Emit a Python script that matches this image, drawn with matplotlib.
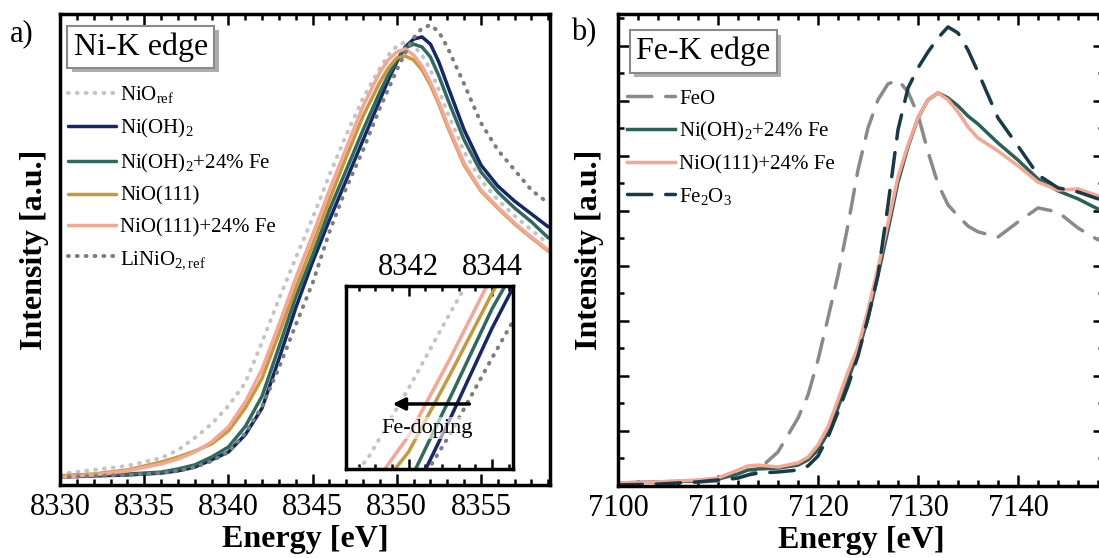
import matplotlib
matplotlib.use('Agg')
import matplotlib.pyplot as plt
from matplotlib.ticker import MultipleLocator
import matplotlib.patheffects as pe

plt.rcParams['font.family'] = 'Liberation Serif'
plt.rcParams['mathtext.fontset'] = 'custom'
plt.rcParams['mathtext.rm'] = 'Liberation Serif'
plt.rcParams['mathtext.it'] = 'Liberation Serif:italic'
plt.rcParams['mathtext.bf'] = 'Liberation Serif:bold'

# ---- Ni K-edge data (normalised intensity)
E_ni = [8330, 8332, 8334, 8336, 8337, 8338, 8339, 8340, 8341, 8342, 8343, 8344, 8345, 8346,
        8347, 8348, 8349, 8349.5, 8350, 8350.5, 8351, 8351.5, 8352, 8352.5, 8353, 8354,
        8355, 8356, 8357, 8358, 8359]
nio_ref = [0.035, 0.048, 0.061, 0.086, 0.111, 0.150, 0.194, 0.252, 0.325, 0.455, 0.592, 0.723,
           0.850, 0.987, 1.115, 1.232, 1.328, 1.369, 1.398, 1.411, 1.398, 1.369, 1.322, 1.258,
           1.188, 1.061, 0.971, 0.908, 0.857, 0.812, 0.768]
ni_oh2 = [0.025, 0.029, 0.032, 0.038, 0.045, 0.057, 0.080, 0.105, 0.160, 0.245, 0.401, 0.564,
          0.710, 0.844, 0.971, 1.099, 1.226, 1.290, 1.347, 1.395, 1.420, 1.427, 1.404, 1.347,
          1.274, 1.131, 1.019, 0.952, 0.904, 0.863, 0.822]
ni_oh2_fe = [0.029, 0.032, 0.035, 0.041, 0.051, 0.064, 0.089, 0.121, 0.186, 0.283, 0.439, 0.599,
             0.732, 0.876, 1.003, 1.131, 1.252, 1.306, 1.354, 1.392, 1.404, 1.395, 1.363, 1.303,
             1.232, 1.099, 0.997, 0.933, 0.882, 0.838, 0.787]
nio111 = [0.029, 0.035, 0.048, 0.073, 0.089, 0.108, 0.131, 0.172, 0.245, 0.340, 0.481, 0.627,
          0.764, 0.908, 1.045, 1.175, 1.283, 1.328, 1.360, 1.366, 1.354, 1.322, 1.274, 1.213,
          1.143, 1.019, 0.936, 0.882, 0.831, 0.787, 0.745]
nio111_fe = [0.025, 0.032, 0.045, 0.067, 0.083, 0.105, 0.137, 0.185, 0.264, 0.369, 0.510, 0.659,
             0.796, 0.939, 1.073, 1.207, 1.315, 1.354, 1.379, 1.389, 1.369, 1.334, 1.283, 1.220,
             1.150, 1.025, 0.939, 0.885, 0.834, 0.790, 0.748]
linio2_ref = [0.025, 0.029, 0.032, 0.038, 0.045, 0.057, 0.076, 0.105, 0.165, 0.250, 0.373, 0.510,
              0.643, 0.806, 0.946, 1.067, 1.201, 1.261, 1.322, 1.376, 1.424, 1.455, 1.465, 1.443,
              1.395, 1.277, 1.153, 1.067, 1.003, 0.939, 0.898]

# ---- Fe K-edge data
E_fe = [7100, 7104, 7108, 7110, 7112, 7113, 7114, 7116, 7118, 7119, 7120, 7121, 7122, 7123,
        7124, 7125, 7126, 7127, 7128, 7129, 7130, 7131, 7132, 7133, 7134, 7135, 7136, 7138,
        7140, 7142, 7144, 7146, 7148]
feo = [0.007, 0.011, 0.015, 0.018, 0.029, 0.040, 0.058, 0.124, 0.247, 0.331, 0.458, 0.611, 0.767,
       0.949, 1.149, 1.302, 1.404, 1.462, 1.476, 1.433, 1.349, 1.215, 1.098, 1.022, 0.982, 0.945,
       0.924, 0.905, 0.960, 1.011, 0.996, 0.938, 0.895]
ni_oh2_fe_b = [0.011, 0.015, 0.018, 0.025, 0.044, 0.058, 0.062, 0.065, 0.076, 0.095, 0.131, 0.193,
               0.284, 0.385, 0.487, 0.611, 0.767, 0.931, 1.105, 1.233, 1.338, 1.404, 1.429, 1.411,
               1.382, 1.345, 1.316, 1.247, 1.185, 1.116, 1.073, 1.044, 1.007]
nio111_fe_b = [0.011, 0.015, 0.022, 0.029, 0.058, 0.073, 0.076, 0.069, 0.084, 0.105, 0.149, 0.215,
               0.313, 0.415, 0.505, 0.640, 0.793, 0.956, 1.124, 1.240, 1.338, 1.404, 1.429, 1.404,
               1.360, 1.305, 1.265, 1.218, 1.164, 1.105, 1.076, 1.080, 1.055]
fe2o3 = [0.004, 0.007, 0.015, 0.022, 0.029, 0.040, 0.047, 0.051, 0.058, 0.073, 0.109, 0.178, 0.269,
         0.364, 0.473, 0.611, 0.767, 1.022, 1.295, 1.447, 1.520, 1.578, 1.629, 1.669, 1.647, 1.585,
         1.505, 1.338, 1.236, 1.131, 1.084, 1.069, 1.044]

ni_labels = ['NiO$_{\\mathrm{ref}}$', 'Ni(OH)$_2$', 'Ni(OH)$_2$+24% Fe', 'NiO(111)',
             'NiO(111)+24% Fe', 'LiNiO$_{\\mathrm{2,ref}}$']
fe_labels = ['FeO', 'Ni(OH)$_2$+24% Fe', 'NiO(111)+24% Fe', 'Fe$_2$O$_3$']

DOT = (0, (0.2, 2.0))
DASH = (0, (7, 4))
ni_series = [(nio_ref, '#c4c4c4', DOT), (ni_oh2, '#15266b', '-'), (ni_oh2_fe, '#2e6b5e', '-'),
             (nio111, '#c69a3a', '-'), (nio111_fe, '#f6a693', '-'), (linio2_ref, '#7d7d7d', DOT)]
fe_series = [(feo, '#8a8a8a', DASH), (ni_oh2_fe_b, '#2a6157', '-'),
             (nio111_fe_b, '#f6a693', '-'), (fe2o3, '#163a48', DASH)]

W, H = 1099, 558
fig = plt.figure(figsize=(W / 100, H / 100), dpi=100)


def box(l, t, r, b):
    return [l / W, 1 - b / H, (r - l) / W, (b - t) / H]


axa = fig.add_axes(box(60, 14, 550, 485))
axb = fig.add_axes(box(618, 14, 1104, 486))
axi = fig.add_axes(box(346, 286, 513, 469))

for y, c, ls in ni_series:
    lw = 2.9 if ls == DOT else 2.5
    for ax in (axa, axi):
        ax.plot(E_ni, y, color=c, ls=ls, lw=lw, dash_capstyle='round', solid_capstyle='round')
for y, c, ls in fe_series:
    axb.plot(E_fe, y, color=c, ls=ls, lw=2.5, dash_capstyle='round')

for ax in (axa, axb, axi):
    for s in ax.spines.values():
        s.set_linewidth(2.5)

# panel a
axa.set_xlim(8330, 8359.1)
axa.set_ylim(0, 1.5)
axa.set_yticks([])
axa.xaxis.set_major_locator(MultipleLocator(5))
axa.xaxis.set_minor_locator(MultipleLocator(1))
axa.tick_params(axis='x', which='both', direction='in', top=True, width=1.8, labelsize=22, pad=6)
axa.tick_params(axis='x', which='major', length=8)
axa.tick_params(axis='x', which='minor', length=4)
axa.set_xlabel('Energy [eV]', fontsize=23, fontweight='bold', labelpad=2)
axa.set_ylabel('Intensity [a.u.]', fontsize=23, fontweight='bold', labelpad=8)
axa.legend(axa.lines, ni_labels, loc='upper left', bbox_to_anchor=(0.016, 0.851),
           frameon=False, fontsize=15, handlelength=2.3, handletextpad=0.2,
           labelspacing=0.56, borderaxespad=0, borderpad=0)
t = axa.text(0.165, 0.930, 'Ni-K edge', transform=axa.transAxes, fontsize=23, ha='center',
             va='center', bbox=dict(boxstyle='square,pad=0.2', fc='white', ec='#8a8a8a', lw=1.5))
t.get_bbox_patch().set_path_effects([pe.withSimplePatchShadow(offset=(3, -3),
                                                              shadow_rgbFace='0.6', alpha=0.8)])

# inset
axi.set_xlim(8340.5, 8344.5)
axi.set_ylim(0.309, 0.640)
axi.set_yticks([])
axi.xaxis.set_major_locator(MultipleLocator(2))
axi.xaxis.set_minor_locator(MultipleLocator(0.4))
axi.tick_params(axis='x', which='both', direction='in', top=True, bottom=True, labeltop=True,
                labelbottom=False, width=1.8, labelsize=22, pad=3)
axi.tick_params(axis='x', which='major', length=7)
axi.tick_params(axis='x', which='minor', length=3.5)
axi.annotate('', xy=(8341.55, 0.4266), xytext=(8343.52, 0.4266),
             arrowprops=dict(arrowstyle='-|>', color='k', lw=2.5, mutation_scale=18))
axi.text(8342.44, 0.383, 'Fe-doping', fontsize=16, ha='center', va='center',
         bbox=dict(fc='white', ec='none', alpha=0.6, pad=1))

# panel b
axb.set_xlim(7100, 7148.6)
axb.set_ylim(0, 1.716)
axb.xaxis.set_major_locator(MultipleLocator(10))
axb.xaxis.set_minor_locator(MultipleLocator(2))
axb.yaxis.set_major_locator(MultipleLocator(0.2))
axb.yaxis.set_minor_locator(MultipleLocator(0.1))
axb.tick_params(axis='both', which='both', direction='in', top=True, right=True, width=1.8,
                labelsize=22, labelleft=False, pad=6)
axb.tick_params(axis='both', which='major', length=8)
axb.tick_params(axis='both', which='minor', length=4)
for tk in axb.yaxis.get_major_ticks() + axb.yaxis.get_minor_ticks():
    tk.tick2line.set_color('0.7')
axb.set_xlabel('Energy [eV]', fontsize=23, fontweight='bold', labelpad=2)
axb.set_ylabel('Intensity [a.u.]', fontsize=23, fontweight='bold', labelpad=10)
axb.legend(fe_labels, loc='upper left', bbox_to_anchor=(0.0185, 0.841), frameon=False,
           fontsize=15, handlelength=2.3, handletextpad=0.2, labelspacing=0.55,
           borderaxespad=0, borderpad=0)
t = axb.text(0.175, 0.9206, 'Fe-K edge', transform=axb.transAxes, fontsize=23, ha='center',
             va='center', bbox=dict(boxstyle='square,pad=0.2', fc='white', ec='#8a8a8a', lw=1.5))
t.get_bbox_patch().set_path_effects([pe.withSimplePatchShadow(offset=(3, -3),
                                                              shadow_rgbFace='0.6', alpha=0.8)])

fig.text(22 / W, 1 - 34 / H, 'a)', fontsize=22, ha='center', va='center')
fig.text(584 / W, 1 - 33 / H, 'b)', fontsize=22, ha='center', va='center')

fig.savefig('out.png', dpi=100)
